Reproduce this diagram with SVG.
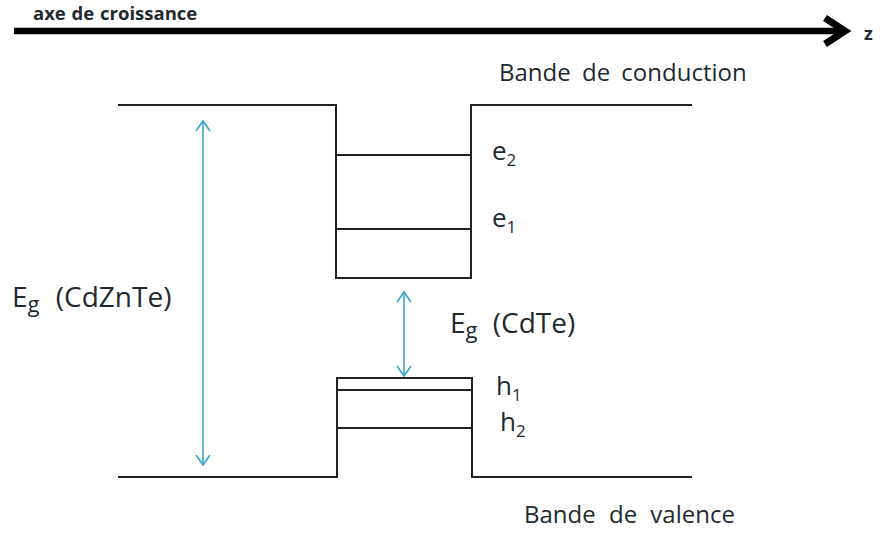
<svg xmlns="http://www.w3.org/2000/svg" width="880" height="534" viewBox="0 0 880 534">
<style>
.band{fill:none;stroke:#222;stroke-width:2}
.lvl{stroke:#222;stroke-width:2}
.gap{stroke:#3aa6c8;stroke-width:1.6;fill:none}
.t{font-family:"Open Sans","Liberation Sans",sans-serif;fill:#1e2a30}
</style>
<rect width="880" height="534" fill="#fff"/>
<g id="axis">
<line x1="14" y1="31" x2="840" y2="31" stroke="#000" stroke-width="6.5"/>
<polyline points="825,18 845,31 825,44" fill="none" stroke="#000" stroke-width="7"/>
<text class="t" x="33" y="20" font-size="18.5" font-weight="bold" word-spacing="1">axe de croissance</text>
<text class="t" x="864" y="40" font-size="18" font-weight="bold">z</text>
</g>
<g id="conduction">
<polyline class="band" points="118,105 336,105 336,278 471,278 471,105 692,105"/>
<line class="lvl" x1="336" y1="155" x2="471" y2="155"/>
<line class="lvl" x1="336" y1="229" x2="471" y2="229"/>
<text class="t" x="499" y="81" font-size="24" word-spacing="5">Bande de conduction</text>
<text class="t" x="492" y="160" font-size="26">e<tspan font-size="17" dy="6">2</tspan></text>
<text class="t" x="492" y="227" font-size="26">e<tspan font-size="17" dy="6">1</tspan></text>
</g>
<g id="valence">
<polyline class="band" points="118,477 337,477 337,378 472,378 472,477 692,477"/>
<line class="lvl" x1="337" y1="390" x2="472" y2="390"/>
<line class="lvl" x1="337" y1="428" x2="472" y2="428"/>
<text class="t" x="496" y="395" font-size="26">h<tspan font-size="17" dy="6">1</tspan></text>
<text class="t" x="500" y="431" font-size="26">h<tspan font-size="17" dy="6">2</tspan></text>
<text class="t" x="524" y="523" font-size="24" word-spacing="7">Bande de valence</text>
</g>
<g id="connectors">
<line class="gap" x1="203" y1="121" x2="203" y2="465"/>
<polyline class="gap" points="196,131 203,121 210,131"/>
<polyline class="gap" points="196,455 203,465 210,455"/>
<line class="gap" x1="404" y1="292" x2="404" y2="376"/>
<polyline class="gap" points="397,302 404,292 411,302"/>
<polyline class="gap" points="397,366 404,376 411,366"/>
</g>
<g id="labels">
<text class="t" x="12" y="307" font-size="28">E<tspan font-size="22" dy="5">g</tspan><tspan dy="-5" word-spacing="9"> (CdZnTe)</tspan></text>
<text class="t" x="450" y="333" font-size="28">E<tspan font-size="22" dy="5">g</tspan><tspan dy="-5" word-spacing="8"> (CdTe)</tspan></text>
</g>
</svg>
